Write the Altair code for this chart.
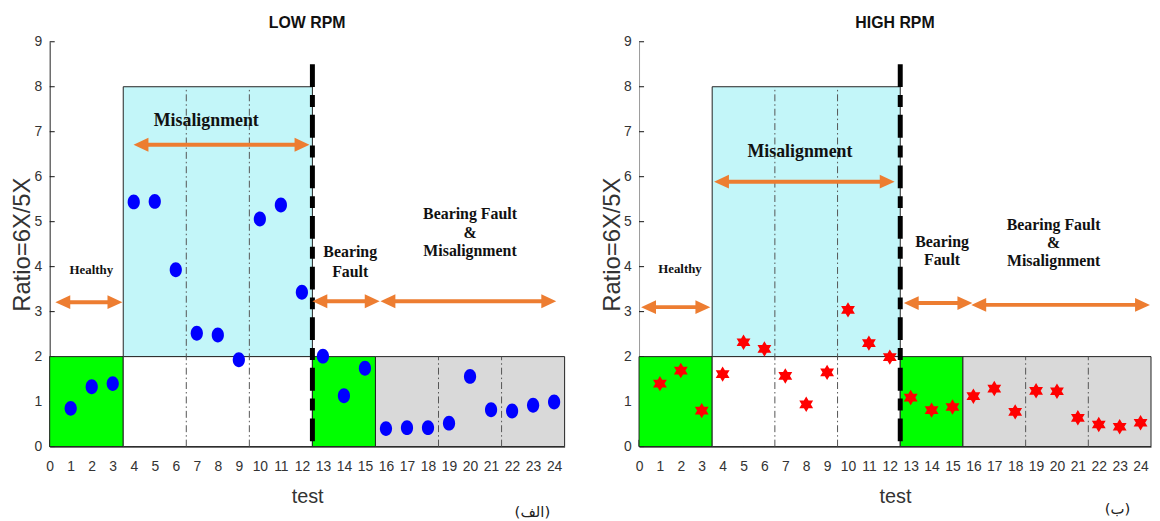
import altair as alt
import pandas as pd

# ---------------- data ----------------
tests = list(range(1, 25))
low_rpm = [0.85, 1.33, 1.40, 5.44, 5.45, 3.93, 2.52, 2.48, 1.93, 5.06, 5.37, 3.43,
           2.01, 1.13, 1.74, 0.40, 0.42, 0.42, 0.52, 1.56, 0.82, 0.79, 0.92, 0.99]
high_rpm = [1.40, 1.69, 0.80, 1.61, 2.32, 2.17, 1.57, 0.94, 1.65, 3.04, 2.30, 1.99,
            1.09, 0.81, 0.88, 1.12, 1.29, 0.77, 1.24, 1.23, 0.64, 0.49, 0.44, 0.53]

x_ticks = list(range(0, 25))
y_ticks = list(range(0, 10))

region_x0 = [0, 3.5, 3.5, 12.5, 15.5]
region_x1 = [3.5, 12.5, 12.5, 15.5, 24.5]
region_y0 = [0, 2, 0, 0, 0]
region_y1 = [2, 8, 2, 2, 2]
region_fill = ["#00FF00", "#C3F6F9", "#FFFFFF", "#00FF00", "#D9D9D9"]

divider_x = [6.5, 9.5, 18.5, 21.5]
divider_top = [8, 8, 2, 2]
boundary_x = [12.5]
boundary_top = [8.5]

# annotations (label, x, y, font size)
low_labels = ["Misalignment", "Healthy", "Bearing", "Fault", "Bearing Fault", "&", "Misalignment"]
low_lab_x = [7.45, 1.98, 14.3, 14.3, 20.0, 20.0, 20.0]
low_lab_y = [7.24, 3.93, 4.33, 3.89, 5.17, 4.75, 4.35]
low_lab_size = [18, 13, 16, 16, 16, 16, 16]

high_labels = ["Misalignment", "Healthy", "Bearing", "Fault", "Bearing Fault", "&", "Misalignment"]
high_lab_x = [7.7, 1.96, 14.5, 14.5, 19.84, 19.84, 19.84]
high_lab_y = [6.55, 3.95, 4.55, 4.15, 4.92, 4.53, 4.13]
high_lab_size = [18, 13, 16, 16, 16, 16, 16]

# double arrows (start, end, level)
low_arrow_x0 = [3.99, 0.27, 12.5, 15.74]
low_arrow_x1 = [12.36, 3.46, 15.7, 24.1]
low_arrow_y = [6.71, 3.21, 3.23, 3.23]

high_arrow_x0 = [3.59, 0.1, 12.67, 15.9]
high_arrow_x1 = [12.23, 3.41, 15.95, 24.45]
high_arrow_y = [5.89, 3.10, 3.19, 3.15]

panel_tags = ["(الف)", "(ب)"]
tag_x = [22.97, 22.9]
tag_y = [-1.45, -1.38]

ELLIPSE = ("M0,-1 C0.45,-1 0.82,-0.5523 0.82,0 C0.82,0.5523 0.45,1 0,1 "
           "C-0.45,1 -0.82,0.5523 -0.82,0 C-0.82,-0.5523 -0.45,-1 0,-1 Z")
HEXAGRAM = "M0,-1 L0.9,0.5 L-0.9,0.5 Z M0,1 L-0.9,-0.5 L0.9,-0.5 Z"
HEAD_RIGHT = "M0,0 L-2,-0.93 L-2,0.93 Z"
HEAD_LEFT = "M0,0 L2,-0.93 L2,0.93 Z"
ORANGE = "#ED7D31"


def panel(title, values, shape, color, size, labels, lab_x, lab_y, lab_size,
          ax0, ax1, ay, ydomain_color, tag, tx, ty, width):
    xs = alt.Scale(domain=[0, 24.5], nice=False, zero=False)
    ys = alt.Scale(domain=[0, 9], nice=False, zero=False)
    xaxis = alt.Axis(values=x_ticks, tickSize=0, labelPadding=13, labelFontSize=14,
                     labelFont="Liberation Sans", labelColor="#333", domainColor="#111",
                     grid=False, labelFlush=False, labelOverlap=False,
                     titleFontSize=20, titleFont="Liberation Sans", titleFontWeight="normal",
                     titleColor="#333", titlePadding=13, minExtent=27, maxExtent=27)
    yaxis = alt.Axis(values=y_ticks, tickSize=0, labelPadding=8, labelFontSize=14,
                     labelFont="Liberation Sans", labelColor="#333", domainColor=ydomain_color,
                     grid=False, labelOverlap=False,
                     titleFontSize=24, titleFont="Liberation Sans", titleFontWeight="normal",
                     titleColor="#333", titlePadding=1, minExtent=14, maxExtent=14)

    def X(f):
        return alt.X(f, type="quantitative", scale=xs, axis=xaxis, title="test")

    def Y(f):
        return alt.Y(f, type="quantitative", scale=ys, axis=yaxis, title="Ratio=6X/5X")

    xt = pd.DataFrame({"tx": x_ticks, "t0": [0] * len(x_ticks), "t1": [0.15] * len(x_ticks)})
    yt = pd.DataFrame({"ty": y_ticks, "t0": [0] * len(y_ticks), "t1": [0.24] * len(y_ticks)})
    ticks_x = alt.Chart(xt).mark_rule(color="#111", strokeWidth=1).encode(
        x=X("tx"), y=Y("t0"), y2="t1")
    ticks_y = alt.Chart(yt).mark_rule(color="#111", strokeWidth=1).encode(
        x=X("t0"), x2="t1", y=Y("ty"))

    reg = pd.DataFrame({"x0": region_x0, "x1": region_x1, "y0": region_y0,
                        "y1": region_y1, "fill": region_fill})
    rects = alt.Chart(reg).mark_rect(stroke="#222", strokeWidth=1).encode(
        x=X("x0"), x2="x1", y=Y("y0"), y2="y1", fill=alt.Fill("fill:N", scale=None))

    div = pd.DataFrame({"dx": divider_x, "d0": [0] * len(divider_x), "d1": divider_top})
    dividers = alt.Chart(div).mark_rule(color="#555", strokeWidth=1,
                                        strokeDash=[7, 3, 1.5, 3]).encode(
        x=X("dx"), y=Y("d0"), y2="d1")

    bnd = pd.DataFrame({"bx": boundary_x, "btop": boundary_top, "b0": [0]})
    boundary = alt.Chart(bnd).mark_rule(color="#000", strokeWidth=5,
                                        strokeDash=[23, 8, 12, 8]).encode(
        x=X("bx"), y=Y("btop"), y2="b0")

    pts = pd.DataFrame({"test": tests, "ratio": values})
    points = alt.Chart(pts).mark_point(shape=shape, filled=True, size=size, color=color,
                                       opacity=1).encode(x=X("test"), y=Y("ratio"))

    arr = pd.DataFrame({"a0": ax0, "a1": ax1, "ay": ay})
    arrow_line = alt.Chart(arr).mark_rule(color=ORANGE, strokeWidth=4, xOffset=8,
                                          x2Offset=-8).encode(x=X("a0"), x2="a1", y=Y("ay"))
    head_l = alt.Chart(arr).mark_point(shape=HEAD_LEFT, filled=True, size=225, color=ORANGE,
                                       opacity=1).encode(x=X("a0"), y=Y("ay"))
    head_r = alt.Chart(arr).mark_point(shape=HEAD_RIGHT, filled=True, size=225, color=ORANGE,
                                       opacity=1).encode(x=X("a1"), y=Y("ay"))

    lab = pd.DataFrame({"label": labels, "lx": lab_x, "ly": lab_y, "ls": lab_size})
    texts = alt.Chart(lab).mark_text(font="Liberation Serif", fontWeight="bold",
                                     align="center", baseline="middle", color="#111").encode(
        x=X("lx"), y=Y("ly"), text="label:N", size=alt.Size("ls:Q", scale=None))

    tg = pd.DataFrame({"tag": [tag], "tx": [tx], "ty": [ty]})
    tag_text = alt.Chart(tg).mark_text(font="DejaVu Sans", fontSize=15, align="center",
                                       baseline="middle", color="#222").encode(
        x=X("tx"), y=Y("ty"), text="tag:N")

    return alt.layer(ticks_x, ticks_y, rects, dividers, boundary, points,
                     arrow_line, head_l, head_r, texts, tag_text).properties(
        width=width, height=408,
        title=alt.Title(title, fontSize=16, font="Liberation Sans", fontWeight="bold",
                        color="#111", offset=4))


left = panel("LOW RPM", low_rpm, ELLIPSE, "#0000FF", 225, low_labels, low_lab_x, low_lab_y,
             low_lab_size, low_arrow_x0, low_arrow_x1, low_arrow_y, "#222",
             panel_tags[0], tag_x[0], tag_y[0], 519)
right = panel("HIGH RPM", high_rpm, HEXAGRAM, "#FF0000", 240, high_labels, high_lab_x,
              high_lab_y, high_lab_size, high_arrow_x0, high_arrow_x1, high_arrow_y, "#999",
              panel_tags[1], tag_x[1], tag_y[1], 516)

chart = alt.hconcat(left, right, spacing=35).properties(
    padding={"left": 3, "top": 5, "right": 0, "bottom": 0}
).configure_view(strokeWidth=0)

chart.save("out.html", embed_options={"renderer": "svg", "actions": False})
